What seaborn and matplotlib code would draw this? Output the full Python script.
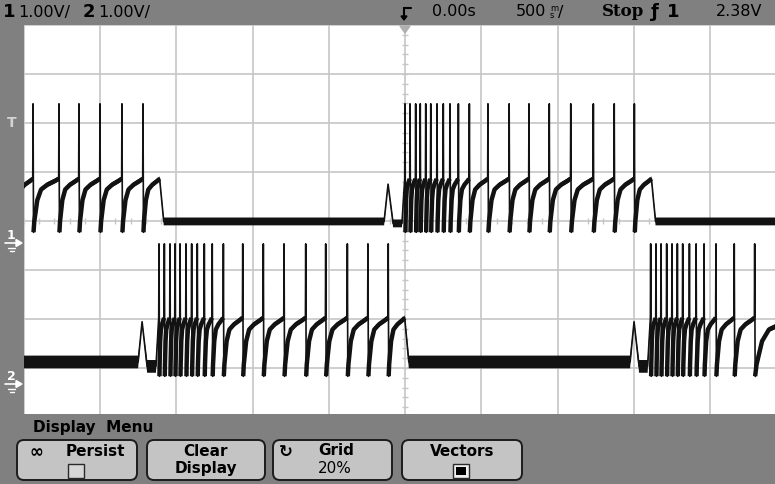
import numpy as np
import pandas as pd
import matplotlib
matplotlib.use("Agg")
import matplotlib.pyplot as plt
import seaborn as sns
from matplotlib.patches import Rectangle, FancyBboxPatch, Polygon

W, H = 775, 485

# scope settings
time_per_div = 0.5   # s
trig_level = 2.38    # V on channel 1

# spike times in s (0 = trigger)
ch1_burst_a = [-2.56, -2.439, -2.269, -2.138, -2.000, -1.856, -1.718]
ch1_burst_a_end = -1.607
ch1_bump = -0.111
ch1_burst_b = [0.000, 0.033, 0.070, 0.100, 0.136, 0.169, 0.210, 0.251, 0.295,
               0.350, 0.422, 0.544, 0.683, 0.813, 0.946, 1.087, 1.235, 1.372, 1.504]
ch1_burst_b_end = 1.618

ch2_bump_a = -1.724
ch2_burst_a = [-1.613, -1.578, -1.541, -1.508, -1.475, -1.436, -1.399, -1.362,
               -1.316, -1.264, -1.191, -1.064, -0.929, -0.793, -0.651, -0.520,
               -0.378, -0.243, -0.110]
ch2_burst_a_end = 0.000
ch2_bump_b = 1.502
ch2_burst_b = [1.611, 1.646, 1.679, 1.716, 1.751, 1.786, 1.821, 1.865, 1.909,
               1.961, 2.039, 2.159, 2.293]
ch2_burst_b_end = 2.6

# voltage levels (V above each channel's ground)
ch1_lv = dict(flat=0.44, trough=0.22, plateau=1.31, peak=2.84, bump=1.20, dip=0.40)
ch2_lv = dict(flat=0.45, trough=0.16, plateau=1.35, peak=2.86, bump=1.27, dip=0.36)
ch1_ground = -0.449   # divisions from centre
ch2_ground = -3.327

ramp_phase = [0.0, 0.03, 0.15, 0.30, 0.55, 0.85, 1.0]
ramp_frac = [0.0, 0.20, 0.60, 0.80, 0.89, 0.96, 1.0]


def build(bursts, lv, w_flat, w_ramp, t_start=-2.6, t_stop=2.6):
    pts = []
    if bursts[0][1][0] > t_start:
        pts.append((t_start, lv['flat'], w_flat, 'flat'))
    last_end = None
    for bump, spikes, t_end in bursts:
        if bump is not None:
            pts += [(bump - 0.026, lv['flat'], w_flat, 'flat'), (bump, lv['bump'], 0.02, 'spike'),
                    (bump + 0.033, lv['dip'], w_flat, 'flat'),
                    (spikes[0] - 0.02, lv['dip'], w_flat, 'flat')]
        for i, ts in enumerate(spikes):
            nxt = spikes[i + 1] if i + 1 < len(spikes) else t_end
            pts += [(ts - 0.002, lv['plateau'], w_ramp, 'ramp'), (ts, lv['peak'], 0.0, 'spike')]
            a = ts + 0.003
            span = nxt - 0.002 - a
            for ph, fr in zip(ramp_phase, ramp_frac):
                pts.append((a + ph * span, lv['trough'] + fr * (lv['plateau'] - lv['trough']),
                            w_ramp, 'ramp'))
        if t_end < t_stop:
            pts.append((t_end + 0.025, lv['flat'], w_flat, 'flat'))
        last_end = t_end
    if last_end < t_stop:
        pts.append((t_stop, lv['flat'], w_flat, 'flat'))
    return pd.DataFrame(pts, columns=['t', 'v', 'w', 'kind'])


df1 = build([(None, ch1_burst_a, ch1_burst_a_end), (ch1_bump, ch1_burst_b, ch1_burst_b_end)],
            ch1_lv, 0.08, 0.05)
df2 = build([(ch2_bump_a, ch2_burst_a, ch2_burst_a_end), (ch2_bump_b, ch2_burst_b, ch2_burst_b_end)],
            ch2_lv, 0.13, 0.05)
df1['y'] = df1['v'] + ch1_ground
df2['y'] = df2['v'] + ch2_ground

sns.set_theme(style="white")
plt.rcParams['font.family'] = ['DejaVu Sans']

fig = plt.figure(figsize=(W / 100, H / 100), dpi=100)
fig.patch.set_facecolor('white')
ax = fig.add_axes([23.75 / W, 67 / H, 762.5 / W, 392 / H])
ax.set_xlim(-5 * time_per_div, 5 * time_per_div)
ax.set_ylim(-4, 4)
ax.set_xticks(np.arange(-2.5, 2.51, 0.5))
ax.set_yticks(np.arange(-4, 5, 1))
ax.grid(True, color='#c6c6c6', lw=1.2)
ax.tick_params(length=0, labelbottom=False, labelleft=False)
for s in ax.spines.values():
    s.set_visible(False)

# minor ticks on the centre lines
mx = np.arange(-2.5, 2.5, 0.1)
ax.vlines(mx, -0.06, 0.06, color='#c6c6c6', lw=1.0)
my = np.arange(-4, 4, 0.2)
ax.hlines(my, -0.018, 0.018, color='#c6c6c6', lw=1.0)

trace = '#121212'
for df in (df1, df2):
    ax.fill_between(df['t'], df['y'] - df['w'], df['y'] + df['w'], color=trace, lw=0, zorder=3)
    sns.lineplot(data=df, x='t', y='y', ax=ax, color=trace, lw=1.2, sort=False,
                 estimator=None, zorder=4)
    # recovery ramps are smeared by noise: draw them thicker
    ramp_y = df['y'].where(df['kind'] == 'ramp')
    ax.plot(df['t'], ramp_y, color=trace, lw=3.2, solid_capstyle='butt', zorder=4)
ax.set_xlabel('')
ax.set_ylabel('')

# overlay in pixel coordinates for the scope frame
ov = fig.add_axes([0, 0, 1, 1], zorder=5)
ov.set_xlim(0, W)
ov.set_ylim(H, 0)
ov.axis('off')
ov.patch.set_alpha(0)
gray = '#808080'
ov.add_patch(Rectangle((0, 0), W, 26, color=gray, lw=0))
ov.add_patch(Rectangle((0, 26), 23.75, 389, color=gray, lw=0))
ov.add_patch(Rectangle((0, 415), W, 70, color=gray, lw=0))

# header
ov.text(3, 12, "1", fontsize=13, weight='bold', va='center', color='black')
ov.text(18, 12, "1.00V/", fontsize=11.5, va='center', color='black')
ov.text(83, 12, "2", fontsize=13, weight='bold', va='center', color='black')
ov.text(98, 12, "1.00V/", fontsize=11.5, va='center', color='black')
ov.plot([404, 404], [9, 20], color='black', lw=1.5)
ov.plot([404, 411], [9, 9], color='black', lw=1.5)
ov.add_patch(Polygon([[401, 17], [407, 17], [404, 21]], closed=True, color='black'))
ov.text(432, 12, "0.00s", fontsize=11.5, va='center', color='black')
ov.text(516, 12, "500", fontsize=11.5, va='center', color='black')
ov.text(550, 12, "m\ns", fontsize=6, linespacing=0.85, va='center', color='black')
ov.text(558, 12, "/", fontsize=11.5, va='center', color='black')
ov.text(602, 12, "Stop", fontsize=12, weight='bold', va='center', color='black',
        family='DejaVu Serif')
ov.text(651, 12, "ƒ", fontsize=13, weight='bold', va='center', color='black')
ov.text(667, 12, "1", fontsize=13, weight='bold', va='center', color='black')
ov.text(716, 12, "2.38V", fontsize=11.5, va='center', color='black')
# time reference marker
ov.add_patch(Polygon([[400, 27], [410, 27], [405, 34]], closed=True, color='#b0b0b0'))

# left ground / trigger markers
ov.text(12, 123, "T", fontsize=10, weight='bold', va='center', ha='center', color='#d4d4d4')
for lbl, yy in (("1", 244), ("2", 385)):
    ov.text(11, yy - 8, lbl, fontsize=9, weight='bold', va='center', ha='center', color='white')
    ov.plot([5, 17], [yy, yy], color='white', lw=1.2)
    ov.add_patch(Polygon([[16, yy - 3.5], [22, yy], [16, yy + 3.5]], closed=True, color='white'))
    ov.plot([8, 15], [yy + 5, yy + 5], color='white', lw=1)
    ov.plot([9.5, 13.5], [yy + 8, yy + 8], color='white', lw=1)

# softkey menu
ov.text(33, 428, "Display  Menu", fontsize=11, weight='bold', va='center', color='black')
buttons = [(17, 137), (147, 265), (273, 392), (402, 522)]
for x0, x1 in buttons:
    ov.add_patch(FancyBboxPatch((x0, 441), x1 - x0, 40,
                                boxstyle="round,pad=0,rounding_size=7",
                                fc='#c4c4c4', ec='#1c1c1c', lw=1.4))
ov.text(36, 452, "∞", fontsize=12, weight='bold', va='center', ha='center', color='black')
ov.text(95, 452, "Persist", fontsize=11, weight='bold', va='center', ha='center', color='black')
ov.add_patch(Rectangle((68, 465), 16, 14, fc='#d6d6d6', ec='#2a2a2a', lw=1.0))
ov.text(206, 452, "Clear", fontsize=11, weight='bold', va='center', ha='center', color='black')
ov.text(206, 469, "Display", fontsize=11, weight='bold', va='center', ha='center', color='black')
ov.text(286, 452, "↻", fontsize=12, weight='bold', va='center', ha='center', color='black')
ov.text(336, 451, "Grid", fontsize=11, weight='bold', va='center', ha='center', color='black')
ov.text(335, 469, "20%", fontsize=11, va='center', ha='center', color='black')
ov.text(462, 452, "Vectors", fontsize=11, weight='bold', va='center', ha='center', color='black')
ov.add_patch(Rectangle((453, 465), 16, 14, fc='#f0f0f0', ec='#2a2a2a', lw=1.0))
ov.add_patch(Rectangle((456, 468), 10, 8, fc='black', lw=0))

fig.savefig("out.png", dpi=100)
